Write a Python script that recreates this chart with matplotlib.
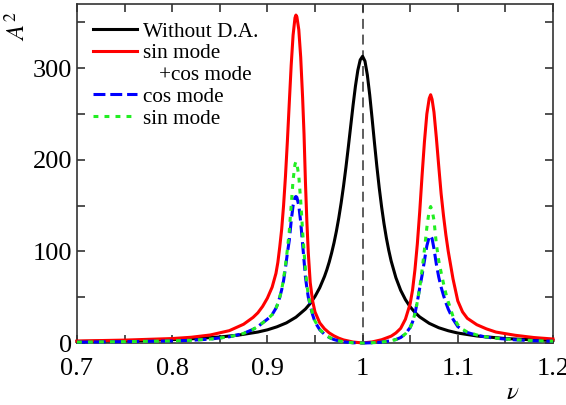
import numpy as np
import matplotlib
matplotlib.use('Agg')
import matplotlib.pyplot as plt
from matplotlib.lines import Line2D
from matplotlib.ticker import MultipleLocator, FormatStrFormatter

plt.rcParams['font.family'] = ['Liberation Serif', 'DejaVu Serif']
plt.rcParams['mathtext.fontset'] = 'stix'

# frequency ratio grid for the absorber curves (dense near the two peaks)
nu_modes = [0.70, 0.75, 0.80, 0.82, 0.84, 0.86, 0.875, 0.885, 0.89, 0.895,
            0.90, 0.905, 0.909, 0.911, 0.913, 0.915, 0.917, 0.919, 0.921, 0.923,
            0.925, 0.927, 0.929, 0.930, 0.931, 0.933, 0.935, 0.937, 0.9385, 0.940,
            0.9415, 0.943, 0.945, 0.9475, 0.95, 0.955, 0.96, 0.965, 0.97, 0.975,
            0.98, 0.99, 1.00, 1.01, 1.02, 1.03, 1.035, 1.04, 1.045, 1.05,
            1.0525, 1.055, 1.0575, 1.06, 1.0625, 1.065, 1.0675, 1.07, 1.0715, 1.073,
            1.075, 1.0775, 1.08, 1.0825, 1.085, 1.0875, 1.09, 1.095, 1.10, 1.105,
            1.11, 1.12, 1.13, 1.14, 1.16, 1.18, 1.20]

# sin mode + cos mode (red)
a_sum = [2.2, 3.2, 4.9, 6.3, 8.8, 13.5, 20.5, 28, 33, 40,
         49, 61, 76, 88, 105, 124, 150, 182, 220, 262,
         303, 336, 355, 358, 356, 342, 312, 268, 228, 175,
         132, 98, 66, 46, 34, 22, 15.5, 11, 7.8, 5.3,
         3.4, 1.1, 0.1, 1.2, 3.6, 7.5, 11, 16, 26, 43,
         58, 80, 108, 143, 183, 220, 250, 267, 271, 266,
         252, 224, 193, 163, 139, 118, 100, 70, 46, 34,
         27, 20, 15.5, 12, 8.5, 6, 4.4]

# cos mode (blue)
a_cos = [1.0, 1.5, 2.3, 3.0, 4.3, 6.8, 10.5, 15, 18, 22,
         26, 31, 38, 43, 50, 58, 68, 82, 98, 112,
         133, 150, 159, 160, 159, 150, 132, 108, 90, 72,
         60, 50, 41, 31, 23, 14.5, 9.5, 6, 3.8, 2.3,
         1.3, 0.3, 0.0, 0.3, 1.0, 2.5, 3.8, 6, 10, 17,
         23, 32, 45, 60, 74, 90, 106, 116, 117, 114,
         103, 86, 72, 61, 52, 44, 37, 26, 18, 14,
         11.5, 8.5, 6.5, 5.2, 3.5, 2.5, 2.0]

# sin mode (green)
a_sin = [1.0, 1.5, 2.3, 3.0, 4.3, 6.8, 10.5, 15, 18, 22,
         26, 31, 38, 43, 50, 58, 70, 85, 102, 122,
         150, 178, 195, 198, 196, 182, 155, 122, 100, 80,
         64, 52, 42, 32, 24, 15, 9.8, 6.2, 3.9, 2.4,
         1.3, 0.3, 0.0, 0.3, 1.0, 2.5, 3.8, 6, 10, 17,
         23, 32, 45, 60, 80, 102, 126, 145, 149, 145,
         134, 108, 90, 77, 65, 54, 45, 29, 20, 15,
         12, 8.8, 6.7, 5.3, 3.6, 2.6, 2.0]

# without dynamic absorber (black)
nu_black = [0.70, 0.75, 0.78, 0.80, 0.82, 0.85, 0.87, 0.89, 0.90, 0.91,
            0.92, 0.93, 0.94, 0.945, 0.95, 0.955, 0.96, 0.9625, 0.965, 0.9675,
            0.97, 0.9725, 0.975, 0.9775, 0.98, 0.9825, 0.985, 0.9875, 0.99, 0.9925,
            0.995, 0.9975, 1.00, 1.0025, 1.005, 1.0075, 1.01, 1.0125, 1.015, 1.0175,
            1.02, 1.0225, 1.025, 1.0275, 1.03, 1.035, 1.04, 1.045, 1.05, 1.055,
            1.06, 1.07, 1.08, 1.09, 1.10, 1.12, 1.15, 1.175, 1.20]
a_black = [1.7, 2.4, 3.1, 3.7, 4.6, 6.6, 8.7, 12.0, 14.4, 17.7,
           22.0, 28.2, 37.1, 43.2, 50.8, 60.4, 72.7, 80.1, 88.6, 98.4,
           109.4, 122.1, 136.6, 153.0, 171.4, 191.7, 213.7, 236.6, 259.4, 280.4,
           297.6, 309.0, 313.0, 307.7, 292.7, 270.8, 245.1, 218.4, 192.8, 169.3,
           148.5, 130.3, 114.6, 101.2, 89.6, 71.3, 57.6, 47.4, 39.5, 33.4,
           28.5, 21.5, 16.7, 13.4, 10.9, 7.7, 4.9, 3.7, 2.8]

legend_labels = ['Without D.A.', 'sin mode', '   +cos mode', 'cos mode', 'sin mode']

fig = plt.figure(figsize=(5.66, 4.05), dpi=100)
ax = fig.add_axes([0.136, 0.153, 0.841, 0.837])

lw = 2.2
ax.axvline(1.0, color='#505050', lw=1.3, dashes=(5.5, 3.2), zorder=1)
l_black, = ax.plot(nu_black, a_black, color='black', lw=lw, zorder=2, clip_on=False)
l_red, = ax.plot(nu_modes, a_sum, color='#ff0000', lw=lw, zorder=3, clip_on=False)
l_blue, = ax.plot(nu_modes, a_cos, color='#0000ff', lw=lw, dashes=(3.9, 1.6), zorder=4, clip_on=False)
l_green, = ax.plot(nu_modes, a_sin, color='#22ee22', lw=lw, dashes=(1.6, 2.0), zorder=5, clip_on=False)

ax.set_xlim(0.7, 1.2)
ax.set_ylim(0, 370)

ax.xaxis.set_major_locator(MultipleLocator(0.1))
ax.xaxis.set_minor_locator(MultipleLocator(0.05))
ax.xaxis.set_major_formatter(FormatStrFormatter('%g'))
ax.yaxis.set_major_locator(MultipleLocator(100))
ax.yaxis.set_minor_locator(MultipleLocator(50))

ax.tick_params(which='both', direction='in', top=True, right=True,
               length=6, width=1.2, color='#333333')
ax.tick_params(axis='x', labelsize=19, pad=11)
ax.tick_params(axis='y', labelsize=19, pad=3.5)
for s in ax.spines.values():
    s.set_linewidth(1.2)
    s.set_color('#333333')

ax.set_ylabel(r'$A^2$', fontsize=18, rotation=90, va='center', ha='center')
ax.yaxis.set_label_coords(-0.126, 0.935)
ax.set_xlabel(r'$\nu$', fontsize=18, va='center', ha='center')
ax.xaxis.set_label_coords(0.916, -0.148)

# blank entry so "+cos mode" sits on its own line under the red entry
blank = Line2D([], [], color='none')
ax.legend([l_black, l_red, blank, l_blue, l_green], legend_labels,
          loc='upper left', bbox_to_anchor=(0.034, 0.948),
          frameon=False, borderpad=0, borderaxespad=0,
          handlelength=2.07, handletextpad=0.28, labelspacing=0.09,
          prop={'family': 'Liberation Serif', 'size': 15.3})

fig.savefig('out.png', dpi=100)
